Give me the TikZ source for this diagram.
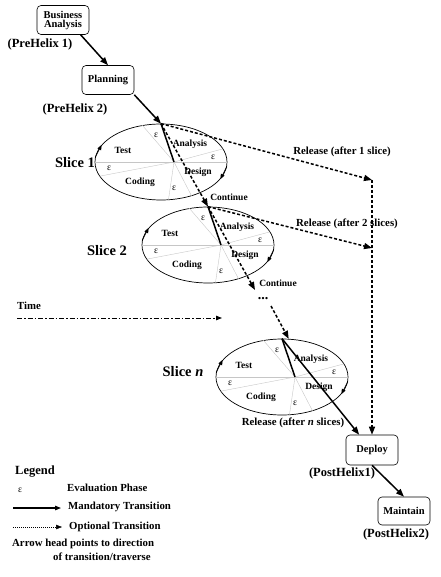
\documentclass[tikz,border=0pt]{standalone}
\usepackage{fontspec}
\setmainfont{Liberation Serif}
\usetikzlibrary{arrows.meta, positioning, shapes.geometric, calc}

\tikzset{
  box/.style={draw, rounded corners=4pt, line width=0.6pt, minimum width=52pt,
    minimum height=29pt, align=center, inner sep=1pt,
    font=\fontsize{10.5}{11}\selectfont\bfseries},
  slice/.style={draw, ellipse, line width=0.7pt, minimum width=132pt,
    minimum height=76pt, inner sep=0pt},
  spoke/.style={gray!45, line width=0.4pt},
  phase/.style={font=\fontsize{9.5}{10}\selectfont\bfseries, inner sep=0pt},
  eps/.style={font=\fontsize{9.5}{10}\selectfont, inner sep=0pt},
  lbl/.style={font=\fontsize{10.8}{12}\selectfont\bfseries, inner sep=0pt},
  helix/.style={font=\fontsize{12.5}{13}\selectfont\bfseries, inner sep=0pt},
  slicename/.style={font=\fontsize{14.5}{15}\selectfont\bfseries, inner sep=0pt},
  must/.style={line width=1.5pt},
  mustarrow/.style={must, -{Triangle[length=8pt, width=6pt]}},
  maybe/.style={line width=1.5pt, dash pattern=on 3pt off 2pt,
    -{Triangle[length=8pt, width=6pt]}},
  turn/.style={line width=0.7pt, -{Triangle[length=5pt, width=4pt]}},
}

\begin{document}
\begin{tikzpicture}[x=1pt, y=-1pt]

  \useasboundingbox (0,0) rectangle (440,577);

  % pre helix
  \node[box] (ba) at (63,20) {Business\\[-2pt]Analysis};
  \node[helix] (pre1) at (40,44) {(PreHelix 1)};
  \node[box] (plan) at (108,80) {Planning};
  \node[helix] (pre2) at (75,109) {(PreHelix 2)};

  % the slices
  \foreach \n/\dx/\dy in {1/0/0, 2/47/83, n/121/215}{
    \begin{scope}[shift={(\dx,\dy)}]
      \node[slice] (s\n) at (161,162) {};
      \coordinate (h\n) at (174,162);
      \coordinate (t\n) at (s\n.north);
      \draw[spoke] (s\n.west) -- (s\n.east);
      \foreach \a in {117,193,281,312,12}
        \draw[spoke] (h\n) -- (s\n.\a);
      \node[phase] at (123,150) {Test};
      \node[phase] at (190,144) {Analysis};
      \node[phase] at (198,172) {Design};
      \node[phase] at (140,182) {Coding};
      \node[eps] at (156,135) {ε};
      \node[eps] at (213,157) {ε};
      \node[eps] at (174,188) {ε};
      \node[eps] at (109,168) {ε};
      \draw[turn] (s\n.176) -- (s\n.164);
      \draw[turn] (s\n.356) -- (s\n.344);
      \draw[must] (t\n) -- (h\n);
    \end{scope}
  }

  \node[slicename] at (75,163) {Slice 1};
  \node[slicename] at (107,251) {Slice 2};
  \node[slicename] at (183,372) {Slice \textit{n}};

  % post helix
  \node[box, minimum height=30pt] (deploy) at (372,450) {Deploy};
  \node[helix] (post1) at (342,473) {(PostHelix1)};
  \node[box, minimum height=28pt] (maint) at (404,511) {Maintain};
  \node[helix] (post2) at (396,534) {(PostHelix2)};

  % mandatory transitions
  \draw[mustarrow] (ba.-40) -- (plan.north);
  \draw[mustarrow] (plan.south east) -- (t1);
  \draw[mustarrow] (tn) -- (deploy.130);
  \draw[mustarrow] (deploy.south) -- (maint.north);

  % optional transitions
  \coordinate (r1) at (372,180);
  \coordinate (r2) at (372,248);
  \coordinate (c2) at (255,290);
  \coordinate (c3) at (271,306);
  \node[font=\fontsize{14}{15}\selectfont\bfseries, inner sep=0pt] (dots) at (263,299) {...};

  \draw[maybe] (t1) -- (r1);
  \draw[maybe] (t1) -- (t2);
  \draw[maybe] (t2) -- (r2);
  \draw[maybe] (t2) -- (c2);
  \draw[maybe] (c3) -- (sn.80);
  \draw[maybe] (r1) -- (deploy.north);

  \node[lbl] at (342,152) {Release (after 1 slice)};
  \node[lbl] at (347,224) {Release (after 2 slices)};
  \node[lbl] at (293,423) {Release (after \textit{n} slices)};
  \node[phase] at (229,197) {Continue};
  \node[phase] at (278,283) {Continue};

  % time
  \coordinate (time0) at (17,318);
  \coordinate (time1) at (222,318);
  \node[lbl, anchor=west] (time) at (17,306) {Time};
  \draw[line width=1pt, dash pattern=on 5pt off 2pt on 1.5pt off 2pt,
    -{Triangle[length=6pt, width=4.5pt]}] (time0) -- (time1);

  % legend
  \node[helix, anchor=west] (legend) at (15,472) {Legend};
  \node[eps] (leps) at (20,490) {ε};
  \node[lbl, anchor=west] (leval) at (67,488) {Evaluation Phase};
  \coordinate (lm0) at (13,508);
  \coordinate (lm1) at (61,508);
  \draw[line width=1.2pt, -{Triangle[length=6pt, width=4.5pt]}] (lm0) -- (lm1);
  \node[lbl, anchor=west] (lmust) at (68,507) {Mandatory Transition};
  \coordinate (lo0) at (13,527);
  \coordinate (lo1) at (62,527);
  \draw[line width=0.5pt, dash pattern=on 1pt off 1pt,
    -{Triangle[length=6pt, width=4.5pt]}] (lo0) -- (lo1);
  \node[lbl, anchor=west] (lopt) at (69,527) {Optional Transition};
  \node[lbl, anchor=west] (note1) at (12,544) {Arrow head points to direction};
  \node[lbl, anchor=west] (note2) at (53,557) {of transition/traverse};

\end{tikzpicture}
\end{document}
